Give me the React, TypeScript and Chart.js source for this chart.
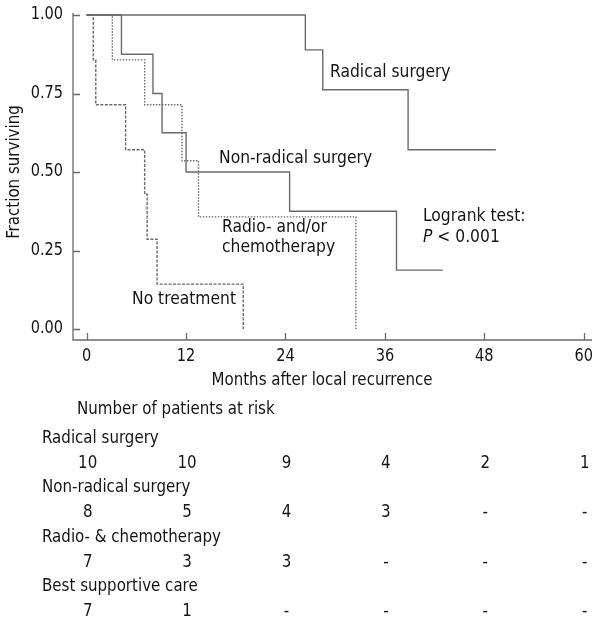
import React, { useEffect, useRef } from "react";
import { Chart, registerables } from "chart.js";

Chart.register(...registerables);

// ---- Data ----
const radicalX = [0, 26.4, 28.5, 38.8, 49.4];
const radicalY = [1, 0.889, 0.762, 0.571, 0.571];
const nonRadicalX = [0, 4.2, 8.0, 9.1, 12.0, 24.5, 37.4, 43.0];
const nonRadicalY = [1, 0.875, 0.75, 0.625, 0.5, 0.375, 0.1875, 0.1875];
const radioX = [0, 3.1, 7.0, 11.5, 13.5, 32.5];
const radioY = [1, 0.857, 0.714, 0.536, 0.357, 0];
const noTreatX = [0, 0.8, 1.1, 4.7, 7.0, 7.3, 8.5, 18.9];
const noTreatY = [1, 0.857, 0.714, 0.571, 0.429, 0.286, 0.143, 0];

const xTicks = [0, 12, 24, 36, 48, 60];
const yTicks = [0, 0.25, 0.5, 0.75, 1.0];
const yTickLabels = ["0.00", "0.25", "0.50", "0.75", "1.00"];

const riskGroups = ["Radical surgery", "Non-radical surgery", "Radio- & chemotherapy", "Best supportive care"];
const riskRadical = ["10", "10", "9", "4", "2", "1"];
const riskNonRadical = ["8", "5", "4", "3", "-", "-"];
const riskRadio = ["7", "3", "3", "-", "-", "-"];
const riskBest = ["7", "1", "-", "-", "-", "-"];
const riskRows = [riskRadical, riskNonRadical, riskRadio, riskBest];

const FONT = "'DejaVu Sans Condensed', 'DejaVu Sans', Verdana, sans-serif";
const LINE = "#6a6a6a";
const TEXT = "#151515";

const toPts = (xs: number[], ys: number[]) => xs.map((x, i) => ({ x, y: ys[i] }));

function txt(ctx: CanvasRenderingContext2D, s: string, x: number, y: number, align: CanvasTextAlign, size: number, sx: number, italic = false) {
  ctx.save();
  ctx.font = `${italic ? "italic " : ""}${size}px ${FONT}`;
  ctx.textAlign = align;
  ctx.textBaseline = "middle";
  ctx.translate(x, y);
  ctx.scale(sx, 1);
  ctx.fillText(s, 0, 0);
  const w = ctx.measureText(s).width * sx;
  ctx.restore();
  return w;
}

const overlay = {
  id: "overlay",
  afterDraw(chart: any) {
    const { ctx, chartArea } = chart;
    const xs = chart.scales.x;
    const ys = chart.scales.y;
    ctx.save();
    ctx.strokeStyle = LINE;
    ctx.lineWidth = 1.3;
    ctx.setLineDash([]);
    // axes
    ctx.beginPath();
    ctx.moveTo(chartArea.left, chartArea.top - 2);
    ctx.lineTo(chartArea.left, chartArea.bottom);
    ctx.lineTo(chartArea.right, chartArea.bottom);
    ctx.stroke();
    // ticks inward
    ctx.beginPath();
    yTicks.forEach((v) => {
      const py = Math.round(ys.getPixelForValue(v)) + 0.5;
      ctx.moveTo(chartArea.left, py);
      ctx.lineTo(chartArea.left + 7, py);
    });
    xTicks.forEach((v) => {
      const px = Math.round(xs.getPixelForValue(v)) + 0.5;
      ctx.moveTo(px, chartArea.bottom);
      ctx.lineTo(px, chartArea.bottom - 7);
    });
    ctx.stroke();

    ctx.fillStyle = TEXT;
    const F = 18;
    const SX = 0.93;
    yTicks.forEach((v, i) => {
      txt(ctx, yTickLabels[i], chartArea.left - 10, ys.getPixelForValue(v), "right", 17, 0.95);
    });
    xTicks.forEach((v) => {
      txt(ctx, String(v), xs.getPixelForValue(v), 357, "center", 17, 0.95);
    });
    txt(ctx, "Months after local recurrence", 322, 380, "center", F, SX);
    ctx.save();
    ctx.translate(14, 172);
    ctx.rotate(-Math.PI / 2);
    txt(ctx, "Fraction surviving", 0, 0, "center", F, SX);
    ctx.restore();

    // annotations
    txt(ctx, "Radical surgery", 330, 72, "left", F, 0.96);
    txt(ctx, "Non-radical surgery", 219, 158, "left", F, 0.96);
    txt(ctx, "Radio- and/or", 222, 227, "left", F, 0.96);
    txt(ctx, "chemotherapy", 222, 247, "left", F, 0.96);
    txt(ctx, "No treatment", 132, 299, "left", F, 0.96);
    txt(ctx, "Logrank test:", 423, 216, "left", F, 0.96);
    const pw = txt(ctx, "P", 423, 237, "left", F, 0.96, true);
    txt(ctx, " < 0.001", 423 + pw, 237, "left", F, 0.96);

    // risk table
    txt(ctx, "Number of patients at risk", 77, 409, "left", F, SX);
    riskGroups.forEach((g, gi) => {
      const yTitle = 438 + gi * 49.5;
      txt(ctx, g, 42, yTitle, "left", F, SX);
      riskRows[gi].forEach((n, ci) => txt(ctx, n, xs.getPixelForValue(xTicks[ci]) + 1, yTitle + 25, "center", F, SX));
    });
    ctx.restore();
  },
};

export default function App() {
  const ref = useRef<HTMLCanvasElement>(null);
  useEffect(() => {
    if (!ref.current) return;
    const mk = (label: string, xs: number[], ys: number[], dash: number[]) => ({
      label,
      data: toPts(xs, ys),
      stepped: "before" as const,
      borderColor: LINE,
      borderWidth: 1.4,
      borderDash: dash,
      pointRadius: 0,
      fill: false,
    });
    const chart = new Chart(ref.current, {
      type: "line",
      data: {
        datasets: [
          mk("Radical surgery", radicalX, radicalY, []),
          mk("Non-radical surgery", nonRadicalX, nonRadicalY, []),
          mk("Radio- and/or chemotherapy", radioX, radioY, [1.5, 1.5]),
          mk("No treatment", noTreatX, noTreatY, [3, 1.5]),
        ],
      },
      options: {
        animation: false,
        responsive: false,
        devicePixelRatio: 1,
        layout: { padding: { left: 73, right: 9, top: 15, bottom: 287 } },
        plugins: { legend: { display: false }, tooltip: { enabled: false } },
        scales: {
          x: { type: "linear", min: -1.65, max: 61, display: false },
          y: { type: "linear", min: -0.035, max: 1.0, display: false },
        },
        elements: { line: { tension: 0 } },
        datasets: { line: { clip: false } as any },
      },
      plugins: [overlay],
    });
    return () => chart.destroy();
  }, []);
  return (
    <div style={{ position: "absolute", left: 0, top: 0, width: 601, height: 627, background: "#fff" }}>
      <canvas ref={ref} width={601} height={627} style={{ width: 601, height: 627 }} />
    </div>
  );
}
